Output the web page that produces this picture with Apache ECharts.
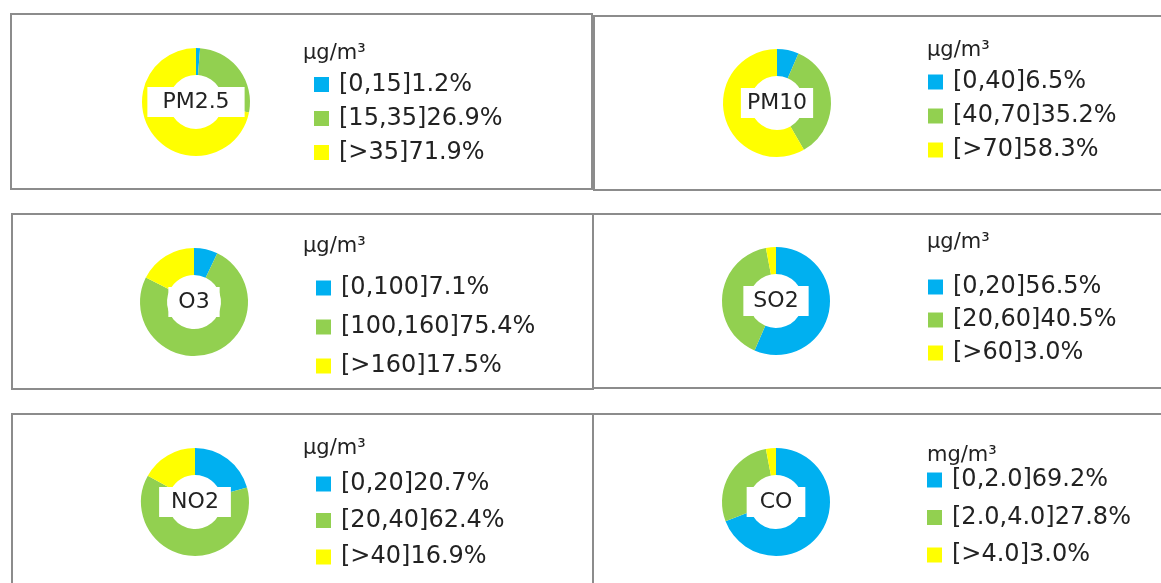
<!DOCTYPE html>
<html>
<head>
<meta charset="utf-8">
<script src="https://cdn.jsdelivr.net/npm/echarts@6/dist/echarts.min.js"></script>
<style>
  html, body { margin: 0; padding: 0; background: #fff; }
  #chart { width: 1161px; height: 583px; }
</style>
</head>
<body>
<div id="chart"></div>
<script>
// pollutant share by concentration band (%)
const pollutants = ["PM2.5", "PM10", "O3", "SO2", "NO2", "CO"]
const units = ["μg/m³", "μg/m³", "μg/m³", "μg/m³", "μg/m³", "mg/m³"]
const ranges = [
  ["[0,15]", "[15,35]", "[>35]"],
  ["[0,40]", "[40,70]", "[>70]"],
  ["[0,100]", "[100,160]", "[>160]"],
  ["[0,20]", "[20,60]", "[>60]"],
  ["[0,20]", "[20,40]", "[>40]"],
  ["[0,2.0]", "[2.0,4.0]", "[>4.0]"]
]
const shares = [
  [1.2, 26.9, 71.9],
  [6.5, 35.2, 58.3],
  [7.1, 75.4, 17.5],
  [56.5, 40.5, 3.0],
  [20.7, 62.4, 16.9],
  [69.2, 27.8, 3.0]
]
const bandColors = ["#00B0F0", "#92D050", "#FFFF00"]

// layout of each panel: border box, donut centre, unit text, legend [left, first item centre, pitch], label box padding
const panels = [
  { box: [11, 14, 581, 175], center: [196, 102], unit: [303, 61], legend: [314, 84.5, 34], pad: 15 },
  { box: [594, 16, 600, 174], center: [777, 103], unit: [927, 58], legend: [928, 82, 34], pad: 6 },
  { box: [12, 214, 581, 175], center: [194, 302], unit: [303, 254], legend: [316, 288, 39], pad: 10 },
  { box: [593, 214, 600, 174], center: [776, 301], unit: [927, 250], legend: [928, 287, 33], pad: 10 },
  { box: [12, 414, 581, 200], center: [195, 502], unit: [303, 456], legend: [316, 484, 36.5], pad: 12 },
  { box: [593, 414, 600, 200], center: [776, 502], unit: [927, 463], legend: [927, 480, 37.5], pad: 13 }
]

const FONT = "'DejaVu Sans', sans-serif"
const TEXT = "#222"

const chart = echarts.init(document.getElementById("chart"))

const series = []
const legends = []
const graphics = []

pollutants.forEach((name, i) => {
  const p = panels[i]
  const names = ranges[i].map((r, k) => r + shares[i][k].toFixed(1) + "%")

  series.push({
    name: name,
    type: "pie",
    center: p.center,
    radius: [27, 54],
    startAngle: 90,
    clockwise: true,
    silent: true,
    label: { show: false },
    labelLine: { show: false },
    emphasis: { disabled: true },
    data: names.map((n, k) => ({
      name: n,
      value: shares[i][k],
      itemStyle: { color: bandColors[k] }
    }))
  })

  legends.push({
    data: names,
    orient: "vertical",
    left: p.legend[0],
    top: p.legend[1] - 12,
    padding: 0,
    itemGap: p.legend[2] - 24,
    itemWidth: 15,
    itemHeight: 15,
    icon: "rect",
    selectedMode: false,
    textStyle: {
      fontFamily: FONT,
      fontSize: 24,
      lineHeight: 24,
      color: TEXT,
      padding: [0, 0, 0, 5]
    }
  })

  // panel border
  graphics.push({
    type: "rect",
    shape: { x: p.box[0], y: p.box[1], width: p.box[2], height: p.box[3] },
    style: { fill: "none", stroke: "#8c8c8c", lineWidth: 2 },
    z: 1
  })

  // unit
  graphics.push({
    type: "text",
    x: p.unit[0],
    y: p.unit[1] - 7,
    style: {
      text: units[i],
      font: "21px " + FONT,
      fill: TEXT,
      align: "left",
      verticalAlign: "middle"
    },
    z: 5
  })

  // centre label on white box
  graphics.push({
    type: "text",
    x: p.center[0],
    y: p.center[1],
    style: {
      text: name,
      font: "22px " + FONT,
      fill: TEXT,
      align: "center",
      verticalAlign: "middle",
      backgroundColor: "#fff",
      padding: [4, p.pad]
    },
    z: 10
  })
})

chart.setOption({
  animation: false,
  backgroundColor: "#fff",
  legend: legends,
  series: series,
  graphic: { elements: graphics }
})
</script>
</body>
</html>
